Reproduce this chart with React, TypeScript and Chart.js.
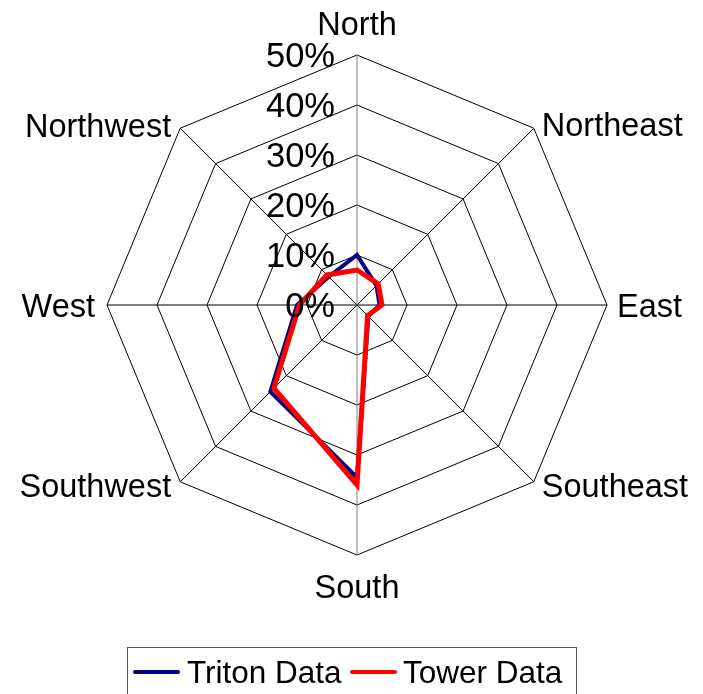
import React, { useEffect, useRef } from "react";
import { Chart, registerables } from "chart.js";

Chart.register(...registerables);

const directions = ["North", "Northeast", "East", "Southeast", "South", "Southwest", "West", "Northwest"];
const tritonData = [10, 5.5, 4.5, 3.2, 34.5, 24.5, 12, 8];
const towerData = [7, 6, 5, 3, 36, 23.5, 11.5, 8.5];
const tickValues = [0, 10, 20, 30, 40, 50];
const tickLabels = ["0%", "10%", "20%", "30%", "40%", "50%"];
const seriesNames = ["Triton Data", "Tower Data"];
const seriesColors = ["#000080", "#FF0000"];

const FONT = "'Liberation Sans', Arial, sans-serif";

const labelPlugin = {
  id: "excelLabels",
  afterDraw(chart: any) {
    const ctx = chart.ctx as CanvasRenderingContext2D;
    const scale = chart.scales.r;
    const cx = scale.xCenter;
    const cy = scale.yCenter;
    const r = scale.drawingArea;
    ctx.save();
    ctx.fillStyle = "#000";

    // tick labels
    const tickSize = 34.5;
    ctx.font = `${tickSize}px ${FONT}`;
    ctx.textAlign = "right";
    ctx.textBaseline = "alphabetic";
    tickValues.forEach((v, i) => {
      const d = scale.getDistanceFromCenterForValue(v);
      ctx.fillText(tickLabels[i], cx - 22, cy - d + tickSize * 0.716 / 2);
    });

    // point labels
    const labSize = 32.5;
    ctx.font = `${labSize}px ${FONT}`;
    const capHalf = (labSize * 0.716) / 2;
    const labels = chart.data.labels as string[];
    labels.forEach((lab, i) => {
      const p = scale.getPointPosition(i, r);
      let x = p.x;
      let midY = p.y;
      let align: CanvasTextAlign = "center";
      if (i === 0) { midY = p.y - 32; }
      else if (i === 4) { midY = p.y + 31; }
      else if (i === 2) { x = p.x + 10; align = "left"; }
      else if (i === 6) { x = p.x - 12; align = "right"; }
      else if (i === 1 || i === 3) {
        x = p.x + 8; align = "left"; midY = p.y + (i === 1 ? -3.5 : 4);
      } else {
        x = p.x - 9; align = "right"; midY = p.y + (i === 7 ? -3 : 3.5);
      }
      ctx.textAlign = align;
      ctx.fillText(lab, x, midY + capHalf);
    });

    // legend
    const legTop = 647;
    ctx.strokeStyle = "#555";
    ctx.lineWidth = 1;
    ctx.strokeRect(127.5, legTop + 0.5, 449, 60);
    const legSize = 31.5;
    ctx.font = `${legSize}px ${FONT}`;
    ctx.textAlign = "left";
    const items = [
      { x0: 135, x1: 178, tx: 187 },
      { x0: 352, x1: 395, tx: 403 },
    ];
    chart.data.datasets.forEach((ds: any, i: number) => {
      const it = items[i];
      ctx.strokeStyle = ds.borderColor;
      ctx.lineWidth = 4;
      ctx.lineCap = "round";
      ctx.beginPath();
      ctx.moveTo(it.x0, 672);
      ctx.lineTo(it.x1, 672);
      ctx.stroke();
      ctx.fillStyle = "#000";
      ctx.fillText(ds.label, it.tx, 682.7);
    });
    ctx.restore();
  },
};

export default function App() {
  const ref = useRef<HTMLCanvasElement | null>(null);
  useEffect(() => {
    if (!ref.current) return;
    const chart = new Chart(ref.current, {
      type: "radar",
      data: {
        labels: directions,
        datasets: [
          {
            label: seriesNames[0],
            data: tritonData,
            borderColor: seriesColors[0],
            backgroundColor: seriesColors[0],
            borderWidth: 4,
            pointRadius: 0,
            fill: false,
            tension: 0,
            order: 1,
          },
          {
            label: seriesNames[1],
            data: towerData,
            borderColor: seriesColors[1],
            backgroundColor: seriesColors[1],
            borderWidth: 5,
            pointRadius: 0,
            fill: false,
            tension: 0,
            order: 0,
          },
        ],
      },
      options: {
        animation: false,
        responsive: false,
        maintainAspectRatio: false,
        devicePixelRatio: 1,
        layout: { padding: { left: 107, right: 96, top: 55, bottom: 139 } },
        plugins: { legend: { display: false }, tooltip: { enabled: false } },
        elements: { line: { borderJoinStyle: "miter" } },
        scales: {
          r: {
            min: 0,
            max: 50,
            ticks: { stepSize: 10, display: false },
            pointLabels: { display: false },
            grid: { color: "#000", lineWidth: 1 },
            angleLines: {
              color: (c: any) => (c.index === 0 || c.index === 4 ? "#808080" : "#000"),
              lineWidth: 1,
            },
          },
        },
      },
      plugins: [labelPlugin],
    });
    return () => chart.destroy();
  }, []);
  return (
    <div style={{ position: "absolute", left: 0, top: 0, width: 703, height: 694, background: "#fff" }}>
      <canvas ref={ref} width={703} height={694} style={{ width: 703, height: 694 }} />
    </div>
  );
}
